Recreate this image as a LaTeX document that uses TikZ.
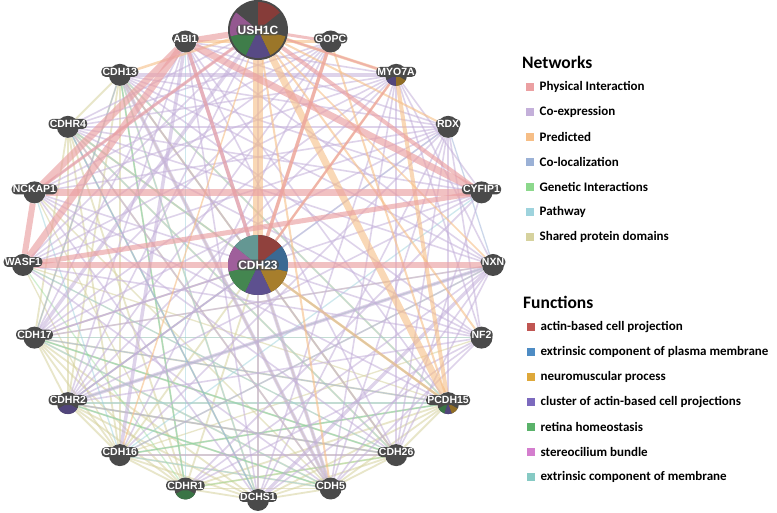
\documentclass[tikz,border=0pt]{standalone}
\usepackage{fontspec}
\setsansfont{Liberation Sans}
\newfontfamily\legendfont{Carlito}
\usetikzlibrary{positioning,backgrounds}
\usepackage{xcolor}
\definecolor{nodegray}{RGB}{74,74,74}
\definecolor{netphys}{RGB}{235,160,162}
\definecolor{netcoexp}{RGB}{196,176,218}
\definecolor{netpred}{RGB}{246,190,134}
\definecolor{netcoloc}{RGB}{155,177,214}
\definecolor{netgen}{RGB}{140,216,140}
\definecolor{netpath}{RGB}{158,211,221}
\definecolor{netshared}{RGB}{214,210,158}
\definecolor{fred}{RGB}{192,86,82}
\definecolor{fblue}{RGB}{78,140,196}
\definecolor{fgold}{RGB}{222,168,58}
\definecolor{fpurple}{RGB}{124,106,190}
\definecolor{fgreen}{RGB}{90,178,106}
\definecolor{fpink}{RGB}{212,126,206}
\definecolor{fteal}{RGB}{134,202,196}

\begin{document}
\begin{tikzpicture}[x=1pt, y=1pt,
    gene/.style={circle, fill=nodegray, minimum size=22pt, inner sep=0pt},
    hubgene/.style={circle, fill=nodegray, minimum size=60pt, inner sep=0pt},
    glabel/.style={fill=nodegray, text=white, rounded corners=4pt, inner sep=1.2pt,
        font=\sffamily\bfseries\fontsize{10.5}{12}\selectfont},
    hublabel/.style={glabel, fill opacity=.75, text opacity=1,
        font=\sffamily\bfseries\fontsize{12}{14}\selectfont},
    phys/.style={draw=netphys, line width=#1, draw opacity=.65}, phys/.default=1pt,
    coexp/.style={draw=netcoexp, line width=#1, draw opacity=.55}, coexp/.default=1.6pt,
    pred/.style={draw=netpred, line width=#1, draw opacity=.6}, pred/.default=1.2pt,
    coloc/.style={draw=netcoloc, line width=#1, draw opacity=.5}, coloc/.default=1.3pt,
    genet/.style={draw=netgen, line width=#1, draw opacity=.4}, genet/.default=1.3pt,
    pathw/.style={draw=netpath, line width=#1, draw opacity=.5}, pathw/.default=1.3pt,
    shared/.style={draw=netshared, line width=#1, draw opacity=.55}, shared/.default=1.8pt,
    swatch/.style={minimum size=8.5pt, inner sep=0pt},
    leghead/.style={anchor=west, inner sep=0pt, font=\legendfont\bfseries\fontsize{17.5}{20}\selectfont},
    legitem/.style={inner sep=0pt, font=\legendfont\bfseries\fontsize{13}{15}\selectfont}
]
    \useasboundingbox (0,0) rectangle (777,513);

    % Genes on the ring
    \node[hubgene] (CDH23) at (258,248) {};
    \node[hubgene] (USH1C) at ([shift={(90:235)}]CDH23) {};
    \foreach \g [count=\k] in {GOPC,MYO7A,RDX,CYFIP1,NXN,NF2,PCDH15,CDH26,CDH5,DCHS1,
        CDHR1,CDH16,CDHR2,CDH17,WASF1,NCKAP1,CDHR4,CDH13,ABI1}
        \node[gene] (\g) at ([shift={({90-18*\k}:235)}]CDH23) {};

    % Function slices
    \foreach \a/\b/\c in {38.57/90/fred, -12.86/38.57/fblue, -64.29/-12.86/fgold,
        -115.71/-64.29/fpurple, -167.14/-115.71/fgreen, 141.43/192.86/fpink, 90/141.43/fteal}
        \fill[\c!75!black] (CDH23.center) -- ++(\a:30) arc[start angle=\a, end angle=\b, radius=30] -- cycle;
    \foreach \a/\b/\c in {38.57/90/fred, -64.29/-12.86/fgold,
        -115.71/-64.29/fpurple, -167.14/-115.71/fgreen, 141.43/192.86/fpink}
        \fill[\c!70!black] (USH1C.center) -- ++(\a:28) arc[start angle=\a, end angle=\b, radius=28] -- cycle;
    \foreach \g/\a/\b/\c in {MYO7A/-150/-90/fpurple, MYO7A/-90/-30/fgold, CDHR2/-150/-30/fpurple,
        PCDH15/-150/-110/fgreen, PCDH15/-110/-70/fpurple, PCDH15/-70/-30/fgold, CDHR1/-150/-30/fgreen}
        \fill[\c!65!black] (\g.center) -- ++(\a:11) arc[start angle=\a, end angle=\b, radius=11] -- cycle;

    % Gene labels
    \foreach \g in {GOPC,MYO7A,RDX,CYFIP1,NXN,NF2,PCDH15,CDH26,CDH5,DCHS1,
        CDHR1,CDH16,CDHR2,CDH17,WASF1,NCKAP1,CDHR4,CDH13,ABI1}
        \node[glabel] (\g-t) at ([yshift=3pt]\g) {\g};
    \node[hublabel] (USH1C-t) at (USH1C) {USH1C};
    \node[hublabel] (CDH23-t) at (CDH23) {CDH23};

    % Interactions
    \begin{scope}[on background layer]
        \fill[white] (0,0) rectangle (777,513);
        % shared protein domains
        \foreach \a [count=\i] in {CDH23,PCDH15,CDH26,CDH5,DCHS1,CDHR1,CDH16,CDHR2,CDH17,CDHR4,CDH13}
            \foreach \b [count=\j] in {CDH23,PCDH15,CDH26,CDH5,DCHS1,CDHR1,CDH16,CDHR2,CDH17,CDHR4,CDH13}
                {\ifnum\j>\i \draw[shared] (\a) -- (\b); \fi}
        \foreach \a/\b in {WASF1/CDH16, NCKAP1/CDH5, CDH17/NF2, CDHR2/NXN, WASF1/PCDH15, CDH16/NF2,
            WASF1/CDH26, CDH17/NXN, NCKAP1/CDHR1}
            \draw[shared=1.3pt] (\a) -- (\b);
        % pathway
        \foreach \a/\b in {CDH13/PCDH15, CDHR4/CDH26, CDH17/CDH5, CDHR2/NXN, CDH16/PCDH15,
            CDHR1/CDH13, WASF1/CDH26, NCKAP1/CDH16, ABI1/CDHR1, CYFIP1/CDH16, DCHS1/CDHR4,
            CDH5/CDHR2, NF2/CDH17, RDX/CDHR2, CDH13/DCHS1, CDHR4/PCDH15, CDH17/CDH26,
            CDHR2/PCDH15, CDH16/CDH5}
            \draw[pathw] (\a) -- (\b);
        % genetic interactions
        \foreach \a/\b in {CDH16/PCDH15, CDHR1/CDH26, CDHR2/CDH5, CDH17/CDH26, CDHR1/CDH13,
            WASF1/CDHR1, CDHR2/CDH26, CDH16/NXN}
            \draw[genet] (\a) -- (\b);
        % co-localization
        \foreach \a/\b in {CDH13/CDH17, RDX/NXN, CDHR4/DCHS1, CDH17/PCDH15}
            \draw[coloc] (\a) -- (\b);
        % co-expression
        \foreach \a/\b in {ABI1/CDH17, ABI1/CDHR2, ABI1/DCHS1, ABI1/NXN, ABI1/RDX, ABI1/MYO7A,
            USH1C/CDHR2, USH1C/CDHR4, USH1C/WASF1, USH1C/NCKAP1, CDH13/RDX, CDH13/NXN,
            CDH13/CDH26, CDHR4/RDX, CDHR4/NF2, CDHR4/CYFIP1, NCKAP1/RDX, NCKAP1/NF2,
            NCKAP1/PCDH15, WASF1/RDX, WASF1/NF2, CDH17/RDX, CDH17/CYFIP1, CDH17/NXN,
            CDHR2/CYFIP1, CDHR2/NF2, CDHR2/CDH26, CDH16/NXN, CDH16/CDH26, CDHR1/NXN,
            CDHR1/NF2, DCHS1/NF2, DCHS1/RDX, CDH5/NXN, CDH5/MYO7A, CDH5/RDX, CDH26/MYO7A,
            CDH26/RDX, PCDH15/RDX, NF2/RDX, NF2/MYO7A, NXN/MYO7A, CYFIP1/MYO7A, GOPC/CDHR4,
            GOPC/CDH17, GOPC/WASF1, MYO7A/NCKAP1, MYO7A/CDHR4, MYO7A/WASF1, CDH23/CDH17,
            CDH23/CDHR2, ABI1/CDH26, CDH13/CYFIP1, NCKAP1/CDH26, GOPC/NCKAP1,
            CDH17/MYO7A, CDHR2/RDX, CDH16/RDX, CDHR1/CYFIP1, DCHS1/MYO7A, CDH5/NF2,
            CDH26/NXN, WASF1/CDH5, NCKAP1/DCHS1, CDHR4/CDH5, CDH13/NF2, ABI1/PCDH15,
            USH1C/DCHS1, GOPC/CDHR2, GOPC/CDH16, MYO7A/CDHR2, CYFIP1/CDH26, NXN/CDHR4}
            \draw[coexp] (\a) -- (\b);
        \foreach \a/\b in {CDH13/CDH5, DCHS1/NXN, ABI1/CDH16, USH1C/CDH17, CDH13/MYO7A, ABI1/CDH5,
            NXN/CDHR2}
            \draw[coexp=3.5pt] (\a) -- (\b);
        % predicted
        \foreach \a/\b/\w in {USH1C/NF2/2pt, USH1C/CDH5/2pt, USH1C/CDH13/2.5pt,
            USH1C/RDX/2pt, GOPC/PCDH15/2pt, ABI1/GOPC/2.5pt, CDH23/MYO7A/2.5pt,
            CDH23/PCDH15/2.5pt, GOPC/CDH23/3pt, USH1C/MYO7A/3pt, USH1C/NXN/1.5pt,
            USH1C/CDH16/1.5pt, MYO7A/PCDH15/4pt, USH1C/PCDH15/7pt, USH1C/CDH23/10pt}
            \draw[pred=\w] (\a) -- (\b);
        % physical interactions
        \foreach \a/\b/\w in {ABI1/NCKAP1/7pt, ABI1/WASF1/7pt, ABI1/CYFIP1/7pt,
            NCKAP1/CYFIP1/7pt, WASF1/NXN/6pt, NCKAP1/WASF1/6pt, WASF1/CYFIP1/5pt,
            ABI1/USH1C/6pt, USH1C/CYFIP1/4pt, USH1C/GOPC/3pt, USH1C/MYO7A/2pt,
            GOPC/CDH23/3.5pt, ABI1/CDH23/3.5pt, MYO7A/CDH23/2pt, NCKAP1/USH1C/3pt}
            \draw[phys=\w] (\a) -- (\b);
    \end{scope}

    % Legend: networks
    \node[leghead] (nethead) at (522,451) {Networks};
    \foreach \t/\c [count=\i] in {Physical Interaction/netphys, Co-expression/netcoexp,
        Predicted/netpred, Co-localization/netcoloc, Genetic Interactions/netgen,
        Pathway/netpath, Shared protein domains/netshared}
    {
        \node[swatch, fill=\c] (netsw\i) at (530,{426-25*(\i-1)}) {};
        \node[legitem, right=5pt of netsw\i] (netitem\i) {\t};
    }

    % Legend: functions
    \node[leghead] (funhead) at (523,211) {Functions};
    \foreach \t/\c [count=\i] in {actin-based cell projection/fred,
        extrinsic component of plasma membrane/fblue, neuromuscular process/fgold,
        cluster of actin-based cell projections/fpurple, retina homeostasis/fgreen,
        stereocilium bundle/fpink, extrinsic component of membrane/fteal}
    {
        \node[swatch, fill=\c] (funsw\i) at (531,{186-25*(\i-1)}) {};
        \node[legitem, right=5pt of funsw\i] (funitem\i) {\t};
    }
\end{tikzpicture}
\end{document}
